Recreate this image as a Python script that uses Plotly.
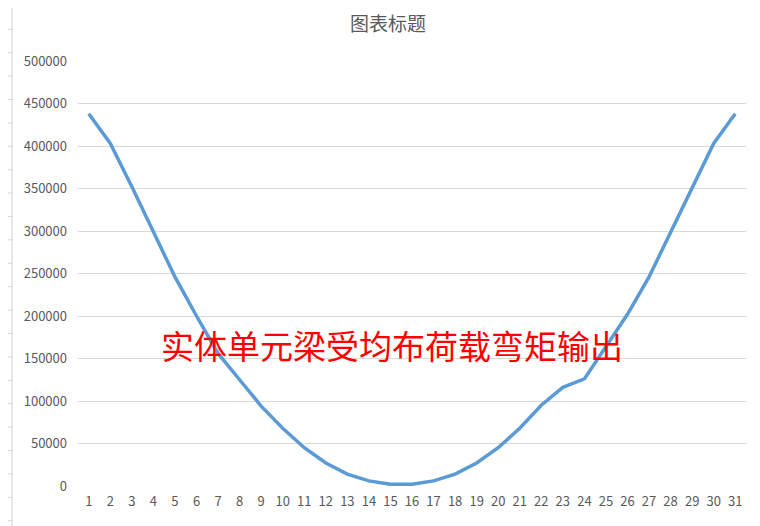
import plotly.graph_objects as go

categories = [str(i) for i in range(1, 32)]
moment = [438000, 403000, 352000, 299000, 246000, 200000, 156000, 125000, 94000, 68000,
          45000, 27000, 14000, 6000, 2000, 2000, 6000, 14000, 27000, 45000,
          68000, 95000, 116000, 126000, 164000, 202000, 246000, 298000, 350000, 403000, 438000]
y_ticks = [0, 50000, 100000, 150000, 200000, 250000, 300000, 350000, 400000, 450000, 500000]

title_text = "图表标题"
note_text = "实体单元梁受均布荷载弯矩输出"

W, H = 760, 526
OFF = 8  # page body margin offset
# target plot area in page pixels: left 78, right 746, top 61, bottom 486
ML = 78 - OFF
MT = 61 - OFF
MR = W - (746 - OFF)
MB = H - (486 - OFF)
PW, PH = W - ML - MR, H - MT - MB

fig = go.Figure()
fig.add_trace(go.Scatter(
    x=categories, y=moment, mode="lines",
    line=dict(color="#5B9BD5", width=3.5),
    hoverinfo="x+y", showlegend=False,
))

def px_to_paper_x(px):
    return (px - OFF - ML) / PW

def px_to_paper_y(py):
    return (H - MB - (py - OFF)) / PH

shapes = []
shapes.append(dict(type="line", xref="paper", yref="paper",
                   x0=px_to_paper_x(12), x1=px_to_paper_x(12),
                   y0=px_to_paper_y(0), y1=px_to_paper_y(H),
                   line=dict(color="#D4D4D4", width=1)))
yy = 29.3
while yy < H:
    shapes.append(dict(type="line", xref="paper", yref="paper",
                       x0=px_to_paper_x(0), x1=px_to_paper_x(12),
                       y0=px_to_paper_y(yy), y1=px_to_paper_y(yy),
                       line=dict(color="#D4D4D4", width=1)))
    yy += 23.4

fig.update_layout(
    width=W, height=H,
    margin=dict(l=ML, r=MR, t=MT, b=MB),
    paper_bgcolor="white", plot_bgcolor="white",
    font=dict(family="Noto Sans CJK SC, Noto Sans, sans-serif", color="#595959", size=13),
    title=dict(text=title_text, x=(388 - OFF) / W, xanchor="center", y=1 - (24 - OFF) / H, yanchor="middle",
               font=dict(size=19, color="#595959", family="Noto Sans CJK SC")),
    xaxis=dict(type="category", range=[-0.5, 30.5], showgrid=False, zeroline=False,
               showline=False, ticks="", tickfont=dict(size=13, color="#595959"),
               ticklabelstandoff=6),
    yaxis=dict(range=[0, 500000], tickvals=y_ticks, ticktext=[str(v) for v in y_ticks],
               showgrid=True, gridcolor="#D9D9D9", gridwidth=1, zeroline=False,
               showline=False, ticks="", tickfont=dict(size=13, color="#595959"),
               ticklabelstandoff=10),
    shapes=shapes,
    annotations=[dict(text=note_text, xref="paper", yref="paper",
                      x=px_to_paper_x(392), y=px_to_paper_y(345),
                      xanchor="center", yanchor="middle", showarrow=False,
                      font=dict(size=33, color="#FF0000", family="Noto Sans CJK SC"))],
)

fig.write_html("out.html")
